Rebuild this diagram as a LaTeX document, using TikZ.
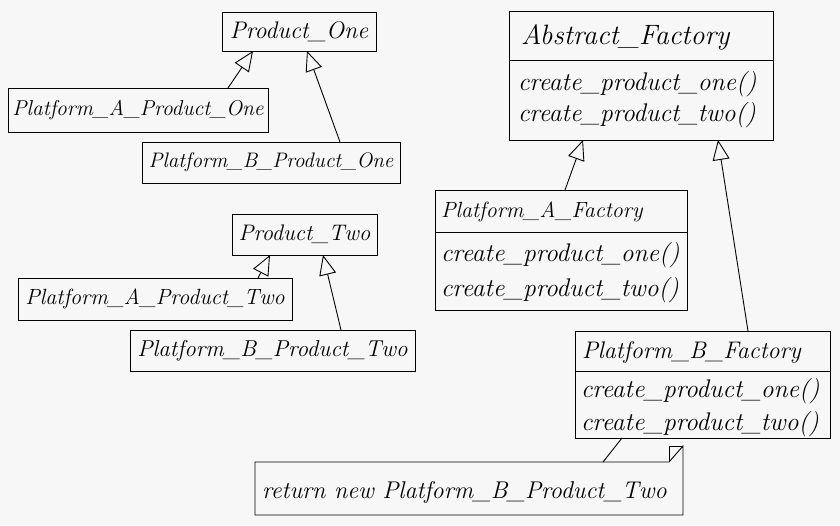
\documentclass[tikz,border=0pt]{standalone}
\usetikzlibrary{arrows.meta}
\definecolor{paper}{HTML}{F7F7F7}
\begin{document}
\begin{tikzpicture}[x=1pt,y=-1pt,
  every node/.style={inner sep=0pt,outer sep=0pt},
  box/.style={draw=black,line width=0.9pt,anchor=north west},
  lbl/.style={font=\fontsize{#1}{#1}\selectfont\itshape,text=black},
  lbl/.default=22,
  mth/.style={font=\fontsize{25.5}{27}\selectfont\itshape,text=black,anchor=west},
  gen/.style={draw=black,line width=0.9pt,-{Triangle[open,length=20pt,width=17pt,line width=0.9pt]}},
  link/.style={draw=black,line width=0.9pt}]
\useasboundingbox (0,0) rectangle (840,525);
\fill[paper] (0,0) rectangle (840,525);

% product hierarchy one
\node[box,minimum width=154pt,minimum height=39pt] (p1) at (222,12) {};
\node[lbl=24] (p1t) at (p1.center) {Product\_One};
\node[box,minimum width=260pt,minimum height=44pt] (pap1) at (8,88) {};
\node[lbl=21.5] (pap1t) at (pap1.center) {Platform\_A\_Product\_One};
\node[box,minimum width=258pt,minimum height=41pt] (pbp1) at (142,142) {};
\node[lbl=21] (pbp1t) at (pbp1.center) {Platform\_B\_Product\_One};

% product hierarchy two
\node[box,minimum width=145pt,minimum height=41pt] (p2) at (232,214) {};
\node[lbl=22.5] (p2t) at (p2.center) {Product\_Two};
\node[box,minimum width=274pt,minimum height=42pt] (pap2) at (18,278) {};
\node[lbl=22] (pap2t) at (pap2.center) {Platform\_A\_Product\_Two};
\node[box,minimum width=285pt,minimum height=41pt] (pbp2) at (130,330) {};
\node[lbl=23] (pbp2t) at (pbp2.center) {Platform\_B\_Product\_Two};

% abstract factory
\node[box,minimum width=264pt,minimum height=129pt] (af) at (509,11) {};
\node[lbl=28,anchor=west] (aft) at (521,37) {Abstract\_Factory};
\draw[link] (af.west |- 0,60) -- (af.east |- 0,60);
\node[mth] (af1) at (518,84) {create\_product\_one()};
\node[mth] (af2) at (518,115) {create\_product\_two()};

% platform A factory
\node[box,minimum width=252pt,minimum height=120pt] (paf) at (435,190) {};
\node[lbl=22,anchor=west] (paft) at (441,212) {Platform\_A\_Factory};
\draw[link] (paf.west |- 0,232) -- (paf.east |- 0,232);
\node[mth] (paf1) at (441,255) {create\_product\_one()};
\node[mth] (paf2) at (441,290) {create\_product\_two()};

% platform B factory
\node[box,minimum width=255pt,minimum height=107pt] (pbf) at (575,331) {};
\node[lbl=24,anchor=west] (pbft) at (582,352) {Platform\_B\_Factory};
\draw[link] (pbf.west |- 0,371) -- (pbf.east |- 0,371);
\node[mth] (pbf1) at (581,391) {create\_product\_one()};
\node[mth] (pbf2) at (581,424) {create\_product\_two()};

% note
\node[anchor=north west,minimum width=428pt,minimum height=53pt] (note) at (255,462) {};
\draw[link] (note.north west) -- ([xshift=-14pt]note.north east) -- ([yshift=16pt]note.north east) -- (note.south east) -- (note.south west) -- cycle;
\draw[link] ([xshift=-14pt]note.north east) -- ([xshift=-14pt,yshift=16pt]note.north east) -- ([yshift=16pt]note.north east);
\node[lbl=24.2,anchor=west] (notet) at (262,492) {return new Platform\_B\_Product\_Two};

% generalisations
\draw[gen] ([xshift=220pt]pap1.north west) -- ([xshift=31pt]p1.south west);
\draw[gen] ([xshift=198pt]pbp1.north west) -- ([xshift=85pt]p1.south west);
\draw[gen] ([xshift=240pt]pap2.north west) -- ([xshift=38pt]p2.south west);
\draw[gen] ([xshift=211pt]pbp2.north west) -- ([xshift=91pt]p2.south west);
\draw[gen] ([xshift=130pt]paf.north west) -- ([xshift=74pt]af.south west);
\draw[gen] ([xshift=173pt]pbf.north west) -- ([xshift=209pt]af.south west);
\draw[link] ([xshift=348pt]note.north west) -- ([xshift=47pt]pbf.south west);
\end{tikzpicture}
\end{document}
